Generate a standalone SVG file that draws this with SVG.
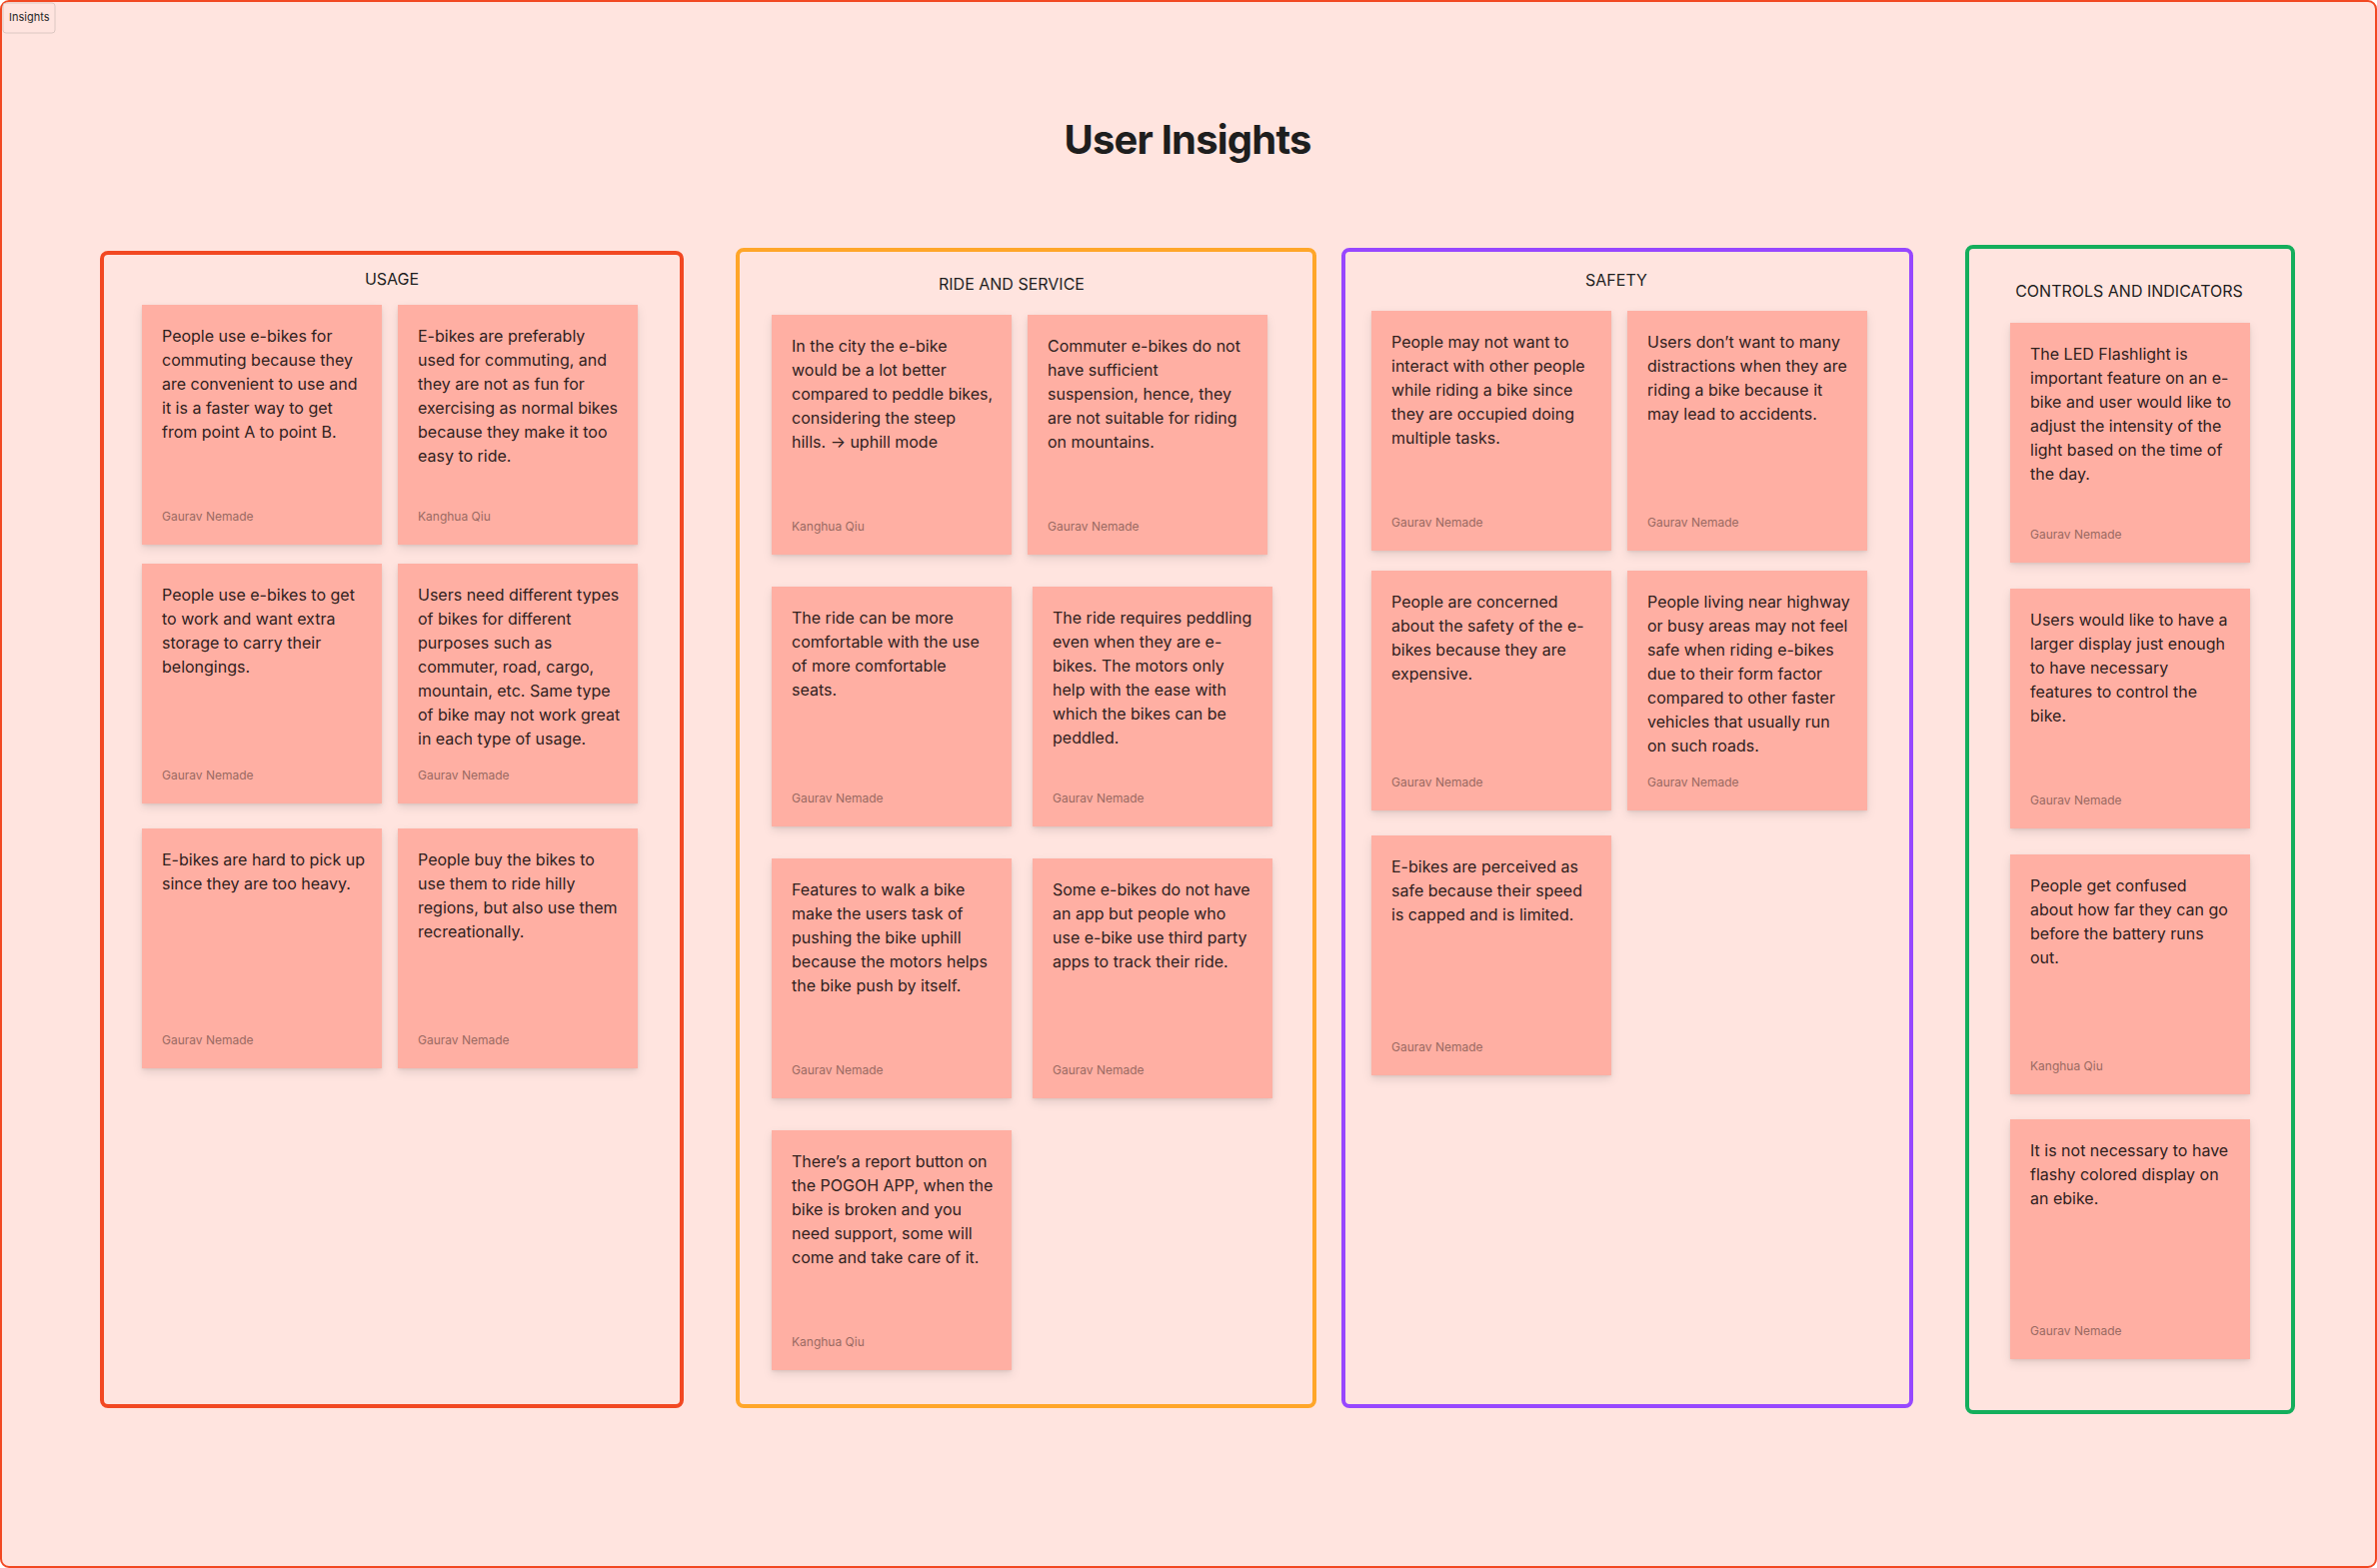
<svg xmlns="http://www.w3.org/2000/svg" width="2378" height="1569" viewBox="0 0 2378 1569">
<defs>
<filter id="sh" x="-10%" y="-10%" width="120%" height="125%">
<feDropShadow dx="0" dy="1" stdDeviation="1.5" flood-color="#000" flood-opacity="0.08"/>
<feDropShadow dx="0" dy="4" stdDeviation="4" flood-color="#000" flood-opacity="0.1"/>
</filter>
</defs>
<style>
.bg{fill:#FFE4DF;stroke:#F24822;stroke-width:2}
.tab{fill:#FFE4DF;stroke:#DCC7C2;stroke-width:1}
.tabt{font-family:Inter,"Liberation Sans",sans-serif;font-size:11px;fill:#2a2a2a}
.title{font-family:Inter,"Liberation Sans",sans-serif;font-size:40px;font-weight:700;fill:#1e1e1e;letter-spacing:-0.8px}
.frame{fill:none;stroke-width:4}
.ft{font-family:Inter,"Liberation Sans",sans-serif;font-size:16px;fill:#1e1e1e}
.st{fill:#FFAFA3;filter:url(#sh)}
.tx{font-family:Inter,"Liberation Sans",sans-serif;font-size:16px;fill:#30211D}
.au{font-family:Inter,"Liberation Sans",sans-serif;font-size:12px;fill:#9A6A62}
</style>
<rect class="bg" x="1" y="1" width="2376" height="1567" rx="8"/>
<g id="label-insights">
<rect class="tab" x="3" y="3" width="52" height="30" rx="3"/>
<text class="tabt" x="9" y="21">Insights</text>
</g>
<g id="title">
<text class="title" x="1188" y="154" text-anchor="middle">User Insights</text>
</g>

<g id="frame-usage">
<rect class="frame" x="102" y="253" width="580" height="1154" rx="6" stroke="#F24822"/>
<text class="ft" x="392" y="285" text-anchor="middle">USAGE</text>
</g>
<g id="frame-ride">
<rect class="frame" x="738" y="250" width="577" height="1157" rx="6" stroke="#FFA629"/>
<text class="ft" x="1012" y="290" text-anchor="middle">RIDE AND SERVICE</text>
</g>
<g id="frame-safety">
<rect class="frame" x="1344" y="250" width="568" height="1157" rx="6" stroke="#9747FF"/>
<text class="ft" x="1617" y="286" text-anchor="middle">SAFETY</text>
</g>
<g id="frame-controls">
<rect class="frame" x="1968" y="247" width="326" height="1166" rx="6" stroke="#14AE5C"/>
<text class="ft" x="2130" y="297" text-anchor="middle">CONTROLS AND INDICATORS</text>
</g>

<g id="connectors"></g>

<!-- USAGE -->
<g id="u1" transform="translate(142,305)">
<rect class="st" width="240" height="240"/>
<text class="tx" y="37"><tspan x="20">People use e-bikes for</tspan><tspan x="20" dy="24">commuting because they</tspan><tspan x="20" dy="24">are convenient to use and</tspan><tspan x="20" dy="24">it is a faster way to get</tspan><tspan x="20" dy="24">from point A to point B.</tspan></text>
<text class="au" x="20" y="216">Gaurav Nemade</text>
</g>
<g id="u2" transform="translate(398,305)">
<rect class="st" width="240" height="240"/>
<text class="tx" y="37"><tspan x="20">E-bikes are preferably</tspan><tspan x="20" dy="24">used for commuting, and</tspan><tspan x="20" dy="24">they are not as fun for</tspan><tspan x="20" dy="24">exercising as normal bikes</tspan><tspan x="20" dy="24">because they make it too</tspan><tspan x="20" dy="24">easy to ride.</tspan></text>
<text class="au" x="20" y="216">Kanghua Qiu</text>
</g>
<g id="u3" transform="translate(142,564)">
<rect class="st" width="240" height="240"/>
<text class="tx" y="37"><tspan x="20">People use e-bikes to get</tspan><tspan x="20" dy="24">to work and want extra</tspan><tspan x="20" dy="24">storage to carry their</tspan><tspan x="20" dy="24">belongings.</tspan></text>
<text class="au" x="20" y="216">Gaurav Nemade</text>
</g>
<g id="u4" transform="translate(398,564)">
<rect class="st" width="240" height="240"/>
<text class="tx" y="37"><tspan x="20">Users need different types</tspan><tspan x="20" dy="24">of bikes for different</tspan><tspan x="20" dy="24">purposes such as</tspan><tspan x="20" dy="24">commuter, road, cargo,</tspan><tspan x="20" dy="24">mountain, etc. Same type</tspan><tspan x="20" dy="24">of bike may not work great</tspan><tspan x="20" dy="24">in each type of usage.</tspan></text>
<text class="au" x="20" y="216">Gaurav Nemade</text>
</g>
<g id="u5" transform="translate(142,829)">
<rect class="st" width="240" height="240"/>
<text class="tx" y="37"><tspan x="20">E-bikes are hard to pick up</tspan><tspan x="20" dy="24">since they are too heavy.</tspan></text>
<text class="au" x="20" y="216">Gaurav Nemade</text>
</g>
<g id="u6" transform="translate(398,829)">
<rect class="st" width="240" height="240"/>
<text class="tx" y="37"><tspan x="20">People buy the bikes to</tspan><tspan x="20" dy="24">use them to ride hilly</tspan><tspan x="20" dy="24">regions, but also use them</tspan><tspan x="20" dy="24">recreationally.</tspan></text>
<text class="au" x="20" y="216">Gaurav Nemade</text>
</g>

<!-- RIDE AND SERVICE -->
<g id="r1" transform="translate(772,315)">
<rect class="st" width="240" height="240"/>
<text class="tx" y="37"><tspan x="20">In the city the e-bike</tspan><tspan x="20" dy="24">would be a lot better</tspan><tspan x="20" dy="24">compared to peddle bikes,</tspan><tspan x="20" dy="24">considering the steep</tspan><tspan x="20" dy="24">hills. → uphill mode</tspan></text>
<text class="au" x="20" y="216">Kanghua Qiu</text>
</g>
<g id="r2" transform="translate(1028,315)">
<rect class="st" width="240" height="240"/>
<text class="tx" y="37"><tspan x="20">Commuter e-bikes do not</tspan><tspan x="20" dy="24">have sufficient</tspan><tspan x="20" dy="24">suspension, hence, they</tspan><tspan x="20" dy="24">are not suitable for riding</tspan><tspan x="20" dy="24">on mountains.</tspan></text>
<text class="au" x="20" y="216">Gaurav Nemade</text>
</g>
<g id="r3" transform="translate(772,587)">
<rect class="st" width="240" height="240"/>
<text class="tx" y="37"><tspan x="20">The ride can be more</tspan><tspan x="20" dy="24">comfortable with the use</tspan><tspan x="20" dy="24">of more comfortable</tspan><tspan x="20" dy="24">seats.</tspan></text>
<text class="au" x="20" y="216">Gaurav Nemade</text>
</g>
<g id="r4" transform="translate(1033,587)">
<rect class="st" width="240" height="240"/>
<text class="tx" y="37"><tspan x="20">The ride requires peddling</tspan><tspan x="20" dy="24">even when they are e-</tspan><tspan x="20" dy="24">bikes. The motors only</tspan><tspan x="20" dy="24">help with the ease with</tspan><tspan x="20" dy="24">which the bikes can be</tspan><tspan x="20" dy="24">peddled.</tspan></text>
<text class="au" x="20" y="216">Gaurav Nemade</text>
</g>
<g id="r5" transform="translate(772,859)">
<rect class="st" width="240" height="240"/>
<text class="tx" y="37"><tspan x="20">Features to walk a bike</tspan><tspan x="20" dy="24">make the users task of</tspan><tspan x="20" dy="24">pushing the bike uphill</tspan><tspan x="20" dy="24">because the motors helps</tspan><tspan x="20" dy="24">the bike push by itself.</tspan></text>
<text class="au" x="20" y="216">Gaurav Nemade</text>
</g>
<g id="r6" transform="translate(1033,859)">
<rect class="st" width="240" height="240"/>
<text class="tx" y="37"><tspan x="20">Some e-bikes do not have</tspan><tspan x="20" dy="24">an app but people who</tspan><tspan x="20" dy="24">use e-bike use third party</tspan><tspan x="20" dy="24">apps to track their ride.</tspan></text>
<text class="au" x="20" y="216">Gaurav Nemade</text>
</g>
<g id="r7" transform="translate(772,1131)">
<rect class="st" width="240" height="240"/>
<text class="tx" y="37"><tspan x="20">There’s a report button on</tspan><tspan x="20" dy="24">the POGOH APP, when the</tspan><tspan x="20" dy="24">bike is broken and you</tspan><tspan x="20" dy="24">need support, some will</tspan><tspan x="20" dy="24">come and take care of it.</tspan></text>
<text class="au" x="20" y="216">Kanghua Qiu</text>
</g>

<!-- SAFETY -->
<g id="s1" transform="translate(1372,311)">
<rect class="st" width="240" height="240"/>
<text class="tx" y="37"><tspan x="20">People may not want to</tspan><tspan x="20" dy="24">interact with other people</tspan><tspan x="20" dy="24">while riding a bike since</tspan><tspan x="20" dy="24">they are occupied doing</tspan><tspan x="20" dy="24">multiple tasks.</tspan></text>
<text class="au" x="20" y="216">Gaurav Nemade</text>
</g>
<g id="s2" transform="translate(1628,311)">
<rect class="st" width="240" height="240"/>
<text class="tx" y="37"><tspan x="20">Users don’t want to many</tspan><tspan x="20" dy="24">distractions when they are</tspan><tspan x="20" dy="24">riding a bike because it</tspan><tspan x="20" dy="24">may lead to accidents.</tspan></text>
<text class="au" x="20" y="216">Gaurav Nemade</text>
</g>
<g id="s3" transform="translate(1372,571)">
<rect class="st" width="240" height="240"/>
<text class="tx" y="37"><tspan x="20">People are concerned</tspan><tspan x="20" dy="24">about the safety of the e-</tspan><tspan x="20" dy="24">bikes because they are</tspan><tspan x="20" dy="24">expensive.</tspan></text>
<text class="au" x="20" y="216">Gaurav Nemade</text>
</g>
<g id="s4" transform="translate(1628,571)">
<rect class="st" width="240" height="240"/>
<text class="tx" y="37"><tspan x="20">People living near highway</tspan><tspan x="20" dy="24">or busy areas may not feel</tspan><tspan x="20" dy="24">safe when riding e-bikes</tspan><tspan x="20" dy="24">due to their form factor</tspan><tspan x="20" dy="24">compared to other faster</tspan><tspan x="20" dy="24">vehicles that usually run</tspan><tspan x="20" dy="24">on such roads.</tspan></text>
<text class="au" x="20" y="216">Gaurav Nemade</text>
</g>
<g id="s5" transform="translate(1372,836)">
<rect class="st" width="240" height="240"/>
<text class="tx" y="37"><tspan x="20">E-bikes are perceived as</tspan><tspan x="20" dy="24">safe because their speed</tspan><tspan x="20" dy="24">is capped and is limited.</tspan></text>
<text class="au" x="20" y="216">Gaurav Nemade</text>
</g>

<!-- CONTROLS AND INDICATORS -->
<g id="c1" transform="translate(2011,323)">
<rect class="st" width="240" height="240"/>
<text class="tx" y="37"><tspan x="20">The LED Flashlight is</tspan><tspan x="20" dy="24">important feature on an e-</tspan><tspan x="20" dy="24">bike and user would like to</tspan><tspan x="20" dy="24">adjust the intensity of the</tspan><tspan x="20" dy="24">light based on the time of</tspan><tspan x="20" dy="24">the day.</tspan></text>
<text class="au" x="20" y="216">Gaurav Nemade</text>
</g>
<g id="c2" transform="translate(2011,589)">
<rect class="st" width="240" height="240"/>
<text class="tx" y="37"><tspan x="20">Users would like to have a</tspan><tspan x="20" dy="24">larger display just enough</tspan><tspan x="20" dy="24">to have necessary</tspan><tspan x="20" dy="24">features to control the</tspan><tspan x="20" dy="24">bike.</tspan></text>
<text class="au" x="20" y="216">Gaurav Nemade</text>
</g>
<g id="c3" transform="translate(2011,855)">
<rect class="st" width="240" height="240"/>
<text class="tx" y="37"><tspan x="20">People get confused</tspan><tspan x="20" dy="24">about how far they can go</tspan><tspan x="20" dy="24">before the battery runs</tspan><tspan x="20" dy="24">out.</tspan></text>
<text class="au" x="20" y="216">Kanghua Qiu</text>
</g>
<g id="c4" transform="translate(2011,1120)">
<rect class="st" width="240" height="240"/>
<text class="tx" y="37"><tspan x="20">It is not necessary to have</tspan><tspan x="20" dy="24">flashy colored display on</tspan><tspan x="20" dy="24">an ebike.</tspan></text>
<text class="au" x="20" y="216">Gaurav Nemade</text>
</g>
</svg>
